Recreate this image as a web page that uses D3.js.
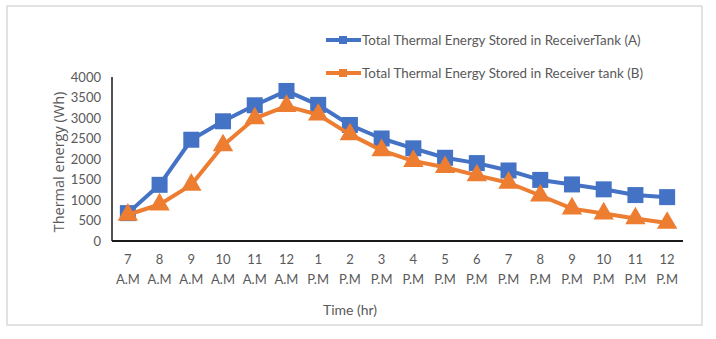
<!DOCTYPE html>
<html>
<head>
<meta charset="utf-8">
<script src="https://cdn.jsdelivr.net/npm/d3@7"></script>
<style>
  body { margin: 0; background: #fff; }
  text { font-family: Lato, "Open Sans", sans-serif; fill: #595959; }
</style>
</head>
<body>
<div id="chart"></div>
<script>
// hours of the day (two-line tick labels)
var hours = ["7", "8", "9", "10", "11", "12", "1", "2", "3", "4", "5", "6", "7", "8", "9", "10", "11", "12"];
var periods = ["A.M", "A.M", "A.M", "A.M", "A.M", "A.M", "P.M", "P.M", "P.M", "P.M", "P.M", "P.M", "P.M", "P.M", "P.M", "P.M", "P.M", "P.M"];
var tankA = [680, 1370, 2470, 2920, 3310, 3660, 3320, 2830, 2500, 2260, 2030, 1900, 1720, 1490, 1380, 1260, 1120, 1070];
var tankB = [640, 890, 1370, 2330, 2990, 3290, 3080, 2600, 2210, 1950, 1800, 1600, 1420, 1110, 790, 670, 550, 440];
var yTicks = [0, 500, 1000, 1500, 2000, 2500, 3000, 3500, 4000];
var seriesNames = ["Total Thermal Energy Stored in ReceiverTank (A)", "Total Thermal Energy Stored in Receiver tank (B)"];

var width = 716, height = 339;
var svg = d3.select("#chart").append("svg")
    .attr("width", width)
    .attr("height", height);

// chart border
svg.append("rect")
    .attr("x", 7).attr("y", 6)
    .attr("width", 695).attr("height", 319)
    .attr("fill", "none")
    .attr("stroke", "#d9d9d9")
    .attr("stroke-width", 1.5);

var idx = d3.range(hours.length);
var x = d3.scaleBand().domain(idx).range([112, 683]);
var y = d3.scaleLinear().domain([0, 4000]).range([241, 77]);
var cx = function (i) { return x(i) + x.bandwidth() / 2; };

// y tick labels
svg.selectAll(".ytick")
    .data(yTicks)
    .join("text")
    .attr("x", 101)
    .attr("y", function (d) { return y(d); })
    .attr("dy", "0.35em")
    .attr("text-anchor", "end")
    .style("font-size", "13px")
    .text(function (d) { return d; });

// axes lines
svg.append("line")
    .attr("x1", 112).attr("x2", 112)
    .attr("y1", y(4000)).attr("y2", y(0))
    .attr("stroke", "#1a1a1a").attr("stroke-width", 1.5);
svg.append("line")
    .attr("x1", 112).attr("x2", 683)
    .attr("y1", y(0)).attr("y2", y(0))
    .attr("stroke", "#1a1a1a").attr("stroke-width", 2);

// x tick labels
var xt = svg.selectAll(".xtick")
    .data(idx)
    .join("text")
    .attr("text-anchor", "middle")
    .style("font-size", "13px");
xt.append("tspan")
    .attr("x", cx).attr("y", 264)
    .text(function (i) { return hours[i]; });
xt.append("tspan")
    .attr("x", cx).attr("y", 284)
    .text(function (i) { return periods[i]; });

// axis titles
svg.append("text")
    .attr("x", 350).attr("y", 315)
    .attr("text-anchor", "middle")
    .style("font-size", "14px")
    .text("Time (hr)");
svg.append("text")
    .attr("transform", "translate(64,162) rotate(-90)")
    .attr("text-anchor", "middle")
    .style("font-family", "'Open Sans', sans-serif")
    .style("font-size", "14.5px")
    .text("Thermal energy (Wh)");

var line = d3.line()
    .x(function (d, i) { return cx(i); })
    .y(function (d) { return y(d); });

var blue = "#4472c4", orange = "#ed7d31";

// series A
svg.append("path")
    .datum(tankA)
    .attr("d", line)
    .attr("fill", "none")
    .attr("stroke", blue)
    .attr("stroke-width", 4)
    .attr("stroke-linejoin", "round");
svg.selectAll(".sqA")
    .data(tankA)
    .join("rect")
    .attr("x", function (d, i) { return cx(i) - 8; })
    .attr("y", function (d) { return y(d) - 8; })
    .attr("width", 16).attr("height", 16)
    .attr("fill", blue);

// series B
svg.append("path")
    .datum(tankB)
    .attr("d", line)
    .attr("fill", "none")
    .attr("stroke", orange)
    .attr("stroke-width", 4)
    .attr("stroke-linejoin", "round");
var tri = d3.symbol().type(d3.symbolTriangle).size(180);
svg.selectAll(".triB")
    .data(tankB)
    .join("path")
    .attr("d", tri)
    .attr("transform", function (d, i) { return "translate(" + cx(i) + "," + y(d) + ")"; })
    .attr("fill", orange);

// legend
var legendColors = [blue, orange];
var lg = svg.selectAll(".legend")
    .data(seriesNames)
    .join("g")
    .attr("transform", function (d, i) { return "translate(326," + (40 + i * 33) + ")"; });
lg.append("line")
    .attr("x1", 0).attr("x2", 35)
    .attr("stroke", function (d, i) { return legendColors[i]; })
    .attr("stroke-width", 4);
lg.append("rect")
    .attr("x", 13).attr("y", -4)
    .attr("width", 8).attr("height", 8)
    .attr("fill", function (d, i) { return legendColors[i]; });
lg.append("text")
    .attr("x", 36)
    .attr("dy", "0.35em")
    .style("font-size", "13.4px")
    .text(function (d) { return d; });
</script>
</body>
</html>
